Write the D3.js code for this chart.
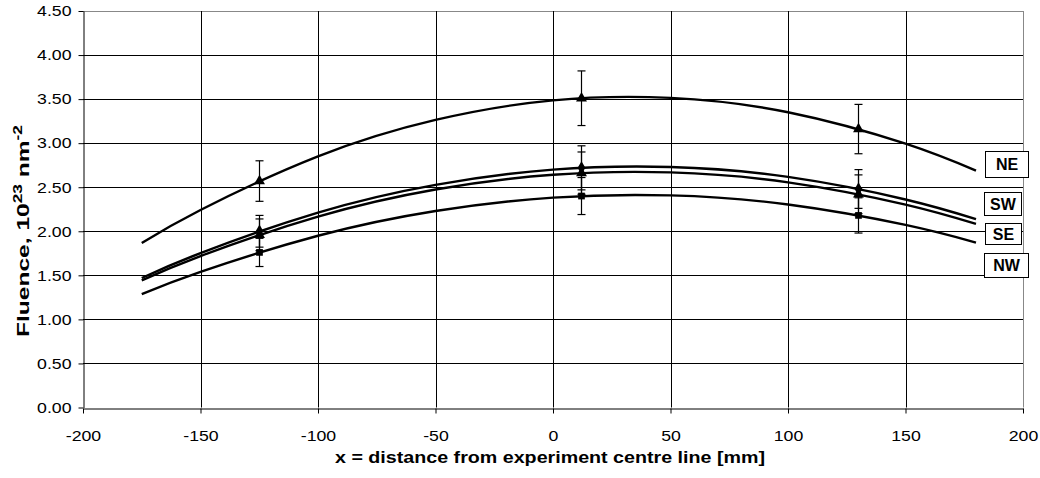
<!DOCTYPE html>
<html>
<head>
<meta charset="utf-8">
<script src="https://cdn.jsdelivr.net/npm/d3@7"></script>
<style>
  body { margin: 0; background: #fff; }
  text { font-family: Arial, "Liberation Sans", sans-serif; }
</style>
</head>
<body>
<script>
const width = 1040,
    height = 478;

// measured points (x in mm)
const pointX = [-125, 12, 130];
const seriesNames = ["NE", "SW", "SE", "NW"];
const neVals = [2.57, 3.51, 3.16];
const swVals = [2.00, 2.72, 2.48];
const seVals = [1.96, 2.66, 2.42];
const nwVals = [1.76, 2.40, 2.18];
// error bar half-heights
const neErr = [0.23, 0.31, 0.28];
const swErr = [0.18, 0.25, 0.22];
const seErr = [0.18, 0.24, 0.22];
const nwErr = [0.16, 0.21, 0.20];

// trend line
const trendX = [-175, -150, -100, -50, 0, 50, 100, 150, 180];
const neTrend = [1.867, 2.242, 2.850, 3.264, 3.486, 3.514, 3.351, 2.994, 2.688];
const swTrend = [1.470, 1.753, 2.212, 2.527, 2.700, 2.730, 2.617, 2.361, 2.138];
const seTrend = [1.443, 1.719, 2.166, 2.474, 2.641, 2.668, 2.555, 2.302, 2.083];
const nwTrend = [1.287, 1.539, 1.949, 2.230, 2.382, 2.407, 2.304, 2.072, 1.872];

const xTicks = [-200, -150, -100, -50, 0, 50, 100, 150, 200];
const yTicks = [0, 0.5, 1, 1.5, 2, 2.5, 3, 3.5, 4, 4.5];

const series = [
  {name: seriesNames[0], vals: neVals, err: neErr, trend: neTrend, marker: d3.symbolTriangle, box: [985, 151, 43, 26]},
  {name: seriesNames[1], vals: swVals, err: swErr, trend: swTrend, marker: d3.symbolDiamond, box: [984, 192, 37, 23]},
  {name: seriesNames[2], vals: seVals, err: seErr, trend: seTrend, marker: d3.symbolTriangle, box: [985, 223, 36, 21]},
  {name: seriesNames[3], vals: nwVals, err: nwErr, trend: nwTrend, marker: d3.symbolSquare, box: [984, 253, 44, 24]}
];

const margin = {left: 83, right: 17, top: 11, bottom: 70};
const x = d3.scaleLinear().domain([-200, 200]).range([margin.left, width - margin.right]);
const y = d3.scaleLinear().domain([0, 4.5]).range([height - margin.bottom - 0.5, margin.top]);

const svg = d3.select("body").append("svg")
    .attr("width", width)
    .attr("height", height);

// widen text horizontally, keeping its anchor point in place
function stretch(sel, k) {
  sel.each(function() {
    const t = d3.select(this);
    const tx = +t.attr("x") || 0;
    t.attr("transform", "translate(" + (tx * (1 - k)) + ",0) scale(" + k + ",1)");
  });
}

// grid
svg.append("g").selectAll("line")
    .data(yTicks.slice(1))
    .enter().append("line")
    .attr("x1", x(-200)).attr("x2", x(200))
    .attr("y1", d => Math.round(y(d)) + 0.5).attr("y2", d => Math.round(y(d)) + 0.5)
    .style("stroke", d => d == 4.5 ? "#888" : "#000")
    .style("stroke-width", 1);
svg.append("g").selectAll("line")
    .data(xTicks.slice(1))
    .enter().append("line")
    .attr("y1", y(0)).attr("y2", y(4.5))
    .attr("x1", d => Math.round(x(d)) + 0.5).attr("x2", d => Math.round(x(d)) + 0.5)
    .style("stroke", d => d == 200 ? "#888" : "#000")
    .style("stroke-width", 1);

// axes
const xAxis = svg.append("g")
    .attr("transform", "translate(0," + (Math.round(y(0)) + 0.5) + ")")
    .call(d3.axisBottom(x).tickValues(xTicks).tickFormat(d => String(d))
      .tickSize(5).tickPadding(17).tickSizeOuter(0));
const yAxis = svg.append("g")
    .attr("transform", "translate(" + (Math.round(x(-200)) + 0.5) + ",0)")
    .call(d3.axisLeft(y).tickValues(yTicks).tickFormat(d3.format(".2f"))
      .tickSize(5).tickPadding(7).tickSizeOuter(0));
[xAxis, yAxis].forEach(a => {
  a.selectAll("text").style("font-size", "15px").style("fill", "#000")
      .style("font-family", "Arial, 'Liberation Sans', sans-serif");
  a.selectAll("line").style("stroke", "#000");
  a.select(".domain").style("stroke", "#000");
  stretch(a.selectAll("text"), 1.18);
});
xAxis.selectAll("text").attr("dy", "0.71em");

// trend lines
const line = d3.line()
    .x((d, i) => x(trendX[i]))
    .y(d => y(d))
    .curve(d3.curveNatural);
series.forEach(s => {
  svg.append("path")
      .attr("d", line(s.trend))
      .style("fill", "none")
      .style("stroke", "#000")
      .style("stroke-width", 2.4);
});

// error bars and markers
series.forEach(s => {
  const g = svg.append("g");
  s.vals.forEach((v, i) => {
    const cx = Math.round(x(pointX[i])) + 0.5;
    const top = y(v + s.err[i]), bot = y(v - s.err[i]);
    g.append("line").attr("x1", cx).attr("x2", cx).attr("y1", top).attr("y2", bot)
        .style("stroke", "#000").style("stroke-width", 1.2);
    [top, bot].forEach(yy => {
      g.append("line").attr("x1", cx - 4).attr("x2", cx + 4).attr("y1", yy).attr("y2", yy)
          .style("stroke", "#000").style("stroke-width", 1.2);
    });
    g.append("path")
        .attr("d", d3.symbol().type(s.marker).size(s.marker == d3.symbolSquare ? 45 : 52)())
        .attr("transform", "translate(" + cx + "," + y(v) + ")")
        .style("fill", "#000");
  });
});

// series labels
series.forEach(s => {
  const b = s.box;
  svg.append("rect")
      .attr("x", b[0] + 0.5).attr("y", b[1] + 0.5)
      .attr("width", b[2]).attr("height", b[3])
      .style("fill", "#fff")
      .style("stroke", "#000")
      .style("stroke-width", 1);
  svg.append("text")
      .attr("x", b[0] + b[2] / 2 + 0.5)
      .attr("y", b[1] + b[3] / 2 + 6)
      .attr("text-anchor", "middle")
      .style("font-size", "16px")
      .style("font-weight", "bold")
      .text(s.name);
});

// axis titles
svg.append("text")
    .attr("x", 550)
    .attr("y", 463)
    .attr("text-anchor", "middle")
    .attr("textLength", 430)
    .attr("lengthAdjust", "spacingAndGlyphs")
    .style("font-size", "16px")
    .style("font-weight", "bold")
    .text("x = distance from experiment centre line [mm]");

const yt = svg.append("text")
    .attr("transform", "translate(29,231) rotate(-90)")
    .attr("text-anchor", "middle")
    .attr("textLength", 212)
    .attr("lengthAdjust", "spacingAndGlyphs")
    .style("font-size", "17px")
    .style("font-weight", "bold");
yt.append("tspan").text("Fluence, 10");
yt.append("tspan").attr("dy", -7).style("font-size", "12px").text("23");
yt.append("tspan").attr("dy", 7).text(" nm");
yt.append("tspan").attr("dy", -7).style("font-size", "12px").text("-2");
</script>
</body>
</html>
